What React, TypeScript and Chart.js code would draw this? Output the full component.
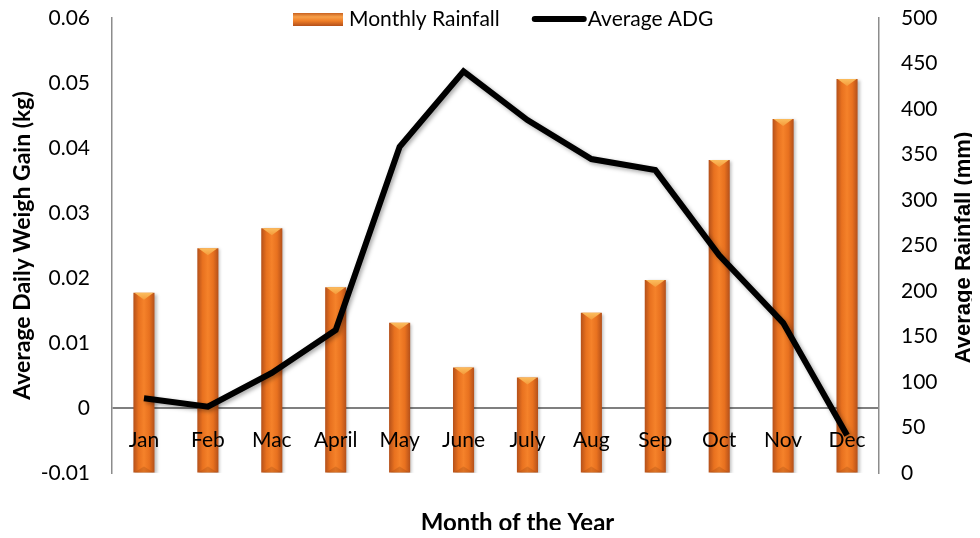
import React, { useEffect, useRef } from 'react';
import { Chart, registerables } from 'chart.js';

Chart.register(...registerables);

const months = ['Jan', 'Feb', 'Mac', 'April', 'May', 'June', 'July', 'Aug', 'Sep', 'Oct', 'Nov', 'Dec'];
const monthlyRainfall = [198, 247, 269, 204, 165, 116, 105, 176, 212, 344, 389, 433];
const averageADG = [0.0015, 0.0002, 0.0054, 0.012, 0.0402, 0.0518, 0.0443, 0.0383, 0.0366, 0.0235, 0.0131, -0.0042];
const adgTickRange = { min: -0.01, max: 0.06, step: 0.01 };
const rainTickRange = { min: 0, max: 500, step: 50 };
const xAxisTitle = 'Month of the Year';
const rightAxisTitle = 'Average Rainfall (mm)';

const FONT = 'Lato, "Open Sans", sans-serif';

const barGradient = (ctx: CanvasRenderingContext2D, left: number, right: number) => {
  const g = ctx.createLinearGradient(left, 0, right, 0);
  g.addColorStop(0, '#b4501a');
  g.addColorStop(0.25, '#e8711f');
  g.addColorStop(0.5, '#f5822a');
  g.addColorStop(0.75, '#e8711f');
  g.addColorStop(1, '#b4501a');
  return g;
};

const decorPlugin = {
  id: 'decor',
  beforeDatasetDraw(chart: any, args: any) {
    const ctx = chart.ctx;
    ctx.save();
    if (args.meta.type === 'line') {
      ctx.shadowColor = 'rgba(0,0,0,0.35)';
      ctx.shadowBlur = 4;
      ctx.shadowOffsetX = 2;
      ctx.shadowOffsetY = 2;
    } else {
      ctx.shadowColor = 'rgba(0,0,0,0.25)';
      ctx.shadowBlur = 3;
      ctx.shadowOffsetX = 2;
      ctx.shadowOffsetY = 1;
    }
  },
  afterDatasetDraw(chart: any, args: any) {
    const ctx = chart.ctx;
    ctx.restore();
    if (args.meta.type === 'bar') {
      ctx.save();
      args.meta.data.forEach((el: any) => {
        const w = el.width;
        const l = el.x - w / 2;
        const r = el.x + w / 2;
        const t = el.y;
        const b = el.base;
        const g = ctx.createLinearGradient(0, t, 0, t + 7);
        g.addColorStop(0, '#fbbd5e');
        g.addColorStop(1, '#f59a3a');
        ctx.fillStyle = g;
        ctx.beginPath();
        ctx.moveTo(l + 1, t);
        ctx.lineTo(r - 1, t);
        ctx.lineTo(el.x, t + 7);
        ctx.closePath();
        ctx.fill();
        ctx.fillStyle = 'rgba(120,50,10,0.2)';
        ctx.beginPath();
        ctx.moveTo(l + 1, b);
        ctx.lineTo(r - 1, b);
        ctx.lineTo(el.x, b - 6);
        ctx.closePath();
        ctx.fill();
      });
      ctx.restore();
    }
  },
  afterDatasetsDraw(chart: any) {
    const ctx = chart.ctx;
    const x = chart.scales.x;
    const y = chart.scales.y;
    const area = chart.chartArea;
    ctx.save();
    // month labels inside the plot, below the zero line
    ctx.font = `21px ${FONT}`;
    ctx.fillStyle = '#000';
    ctx.textAlign = 'center';
    ctx.textBaseline = 'middle';
    const y0 = y.getPixelForValue(0);
    months.forEach((m, i) => {
      ctx.fillText(m, x.getPixelForValue(i), y0 + 32);
    });
    // x axis title
    ctx.font = `bold 24px ${FONT}`;
    ctx.fillText(xAxisTitle, (area.left + area.right) / 2 + 22, 515);

    // right axis title, reading bottom to top
    ctx.save();
    ctx.translate(956, (area.top + area.bottom) / 2 + 2);
    ctx.rotate(-Math.PI / 2);
    ctx.font = `bold 22px "Liberation Sans", Arial, sans-serif`;
    ctx.fillText(rightAxisTitle, 0, 0);
    ctx.restore();

    // legend
    ctx.font = `21px ${FONT}`;
    ctx.textAlign = 'left';
    let lx = 285;
    const ly = 11;
    const lg = ctx.createLinearGradient(0, ly - 6, 0, ly + 7);
    lg.addColorStop(0, '#c9611f');
    lg.addColorStop(0.3, '#f7a04a');
    lg.addColorStop(0.6, '#f07f28');
    lg.addColorStop(1, '#b4501a');
    ctx.fillStyle = lg;
    ctx.fillRect(lx, ly - 6, 50, 13);
    lx += 56;
    ctx.fillStyle = '#000';
    ctx.fillText(chart.data.datasets[0].label, lx, ly);
    lx += ctx.measureText(chart.data.datasets[0].label).width + 32;
    ctx.strokeStyle = '#000';
    ctx.lineWidth = 6;
    ctx.lineCap = 'round';
    ctx.beginPath();
    ctx.moveTo(lx + 3, ly);
    ctx.lineTo(lx + 52, ly);
    ctx.stroke();
    lx += 56;
    ctx.fillText(chart.data.datasets[1].label, lx, ly);
    ctx.restore();
  },
};

export default function App() {
  const ref = useRef<HTMLCanvasElement | null>(null);
  useEffect(() => {
    if (!ref.current) return;
    const chart = new Chart(ref.current, {
      data: {
        labels: months,
        datasets: [
          {
            type: 'bar',
            label: 'Monthly Rainfall',
            data: monthlyRainfall,
            yAxisID: 'y1',
            order: 2,
            barPercentage: 0.33,
            categoryPercentage: 1,
            backgroundColor: (c: any) => {
              const ch = c.chart;
              if (!ch.chartArea || !ch.scales.x) return '#f07a24';
              const px = ch.scales.x.getPixelForValue(c.dataIndex);
              const w = (ch.scales.x.width / months.length) * 0.33;
              return barGradient(ch.ctx, px - w / 2, px + w / 2);
            },
            borderWidth: 0,
          },
          {
            type: 'line',
            label: 'Average ADG',
            data: averageADG,
            yAxisID: 'y',
            order: 1,
            borderColor: '#000',
            backgroundColor: '#000',
            borderWidth: 6,
            pointRadius: 0,
            tension: 0,
            borderJoinStyle: 'miter',
          },
        ],
      } as any,
      options: {
        animation: false,
        responsive: true,
        maintainAspectRatio: false,
        layout: { padding: { top: 10, bottom: 57, left: 0, right: 0 } },
        plugins: { legend: { display: false }, tooltip: { enabled: false } },
        scales: {
          x: { display: false },
          y: {
            position: 'left',
            min: adgTickRange.min,
            max: adgTickRange.max,
            afterFit: (s: any) => {
              s.width = 104;
              s.paddingTop = 0;
              s.paddingBottom = 0;
            },
            ticks: {
              stepSize: adgTickRange.step,
              padding: 22,
              color: '#000',
              font: { family: FONT, size: 21 },
              callback: (v: any) => String(Math.round(Number(v) * 100) / 100),
            },
            grid: {
              drawTicks: false,
              color: (c: any) => (c.tick && Math.abs(c.tick.value) < 1e-9 ? '#7f7f7f' : 'rgba(0,0,0,0)'),
              lineWidth: 2,
            },
            border: { display: true, color: '#8c8c8c', width: 1.5 },
            title: {
              display: true,
              text: 'Average Daily Weigh Gain (kg)',
              color: '#000',
              font: { family: FONT, size: 23, weight: 'bold', lineHeight: 1.2 },
              padding: { top: 1, bottom: 0 },
            },
          },
          y1: {
            position: 'right',
            min: rainTickRange.min,
            max: rainTickRange.max,
            afterFit: (s: any) => {
              s.width = 93;
              s.paddingTop = 0;
              s.paddingBottom = 0;
            },
            ticks: {
              stepSize: rainTickRange.step,
              padding: 22,
              color: '#000',
              font: { family: FONT, size: 21 },
            },
            grid: { drawTicks: false, drawOnChartArea: false },
            border: { display: true, color: '#8c8c8c', width: 1.5 },
          },
        },
      },
      plugins: [decorPlugin],
    } as any);
    return () => chart.destroy();
  }, []);
  return (
    <div style={{ position: 'relative', width: 964, height: 522 }}>
      <canvas ref={ref} />
    </div>
  );
}
